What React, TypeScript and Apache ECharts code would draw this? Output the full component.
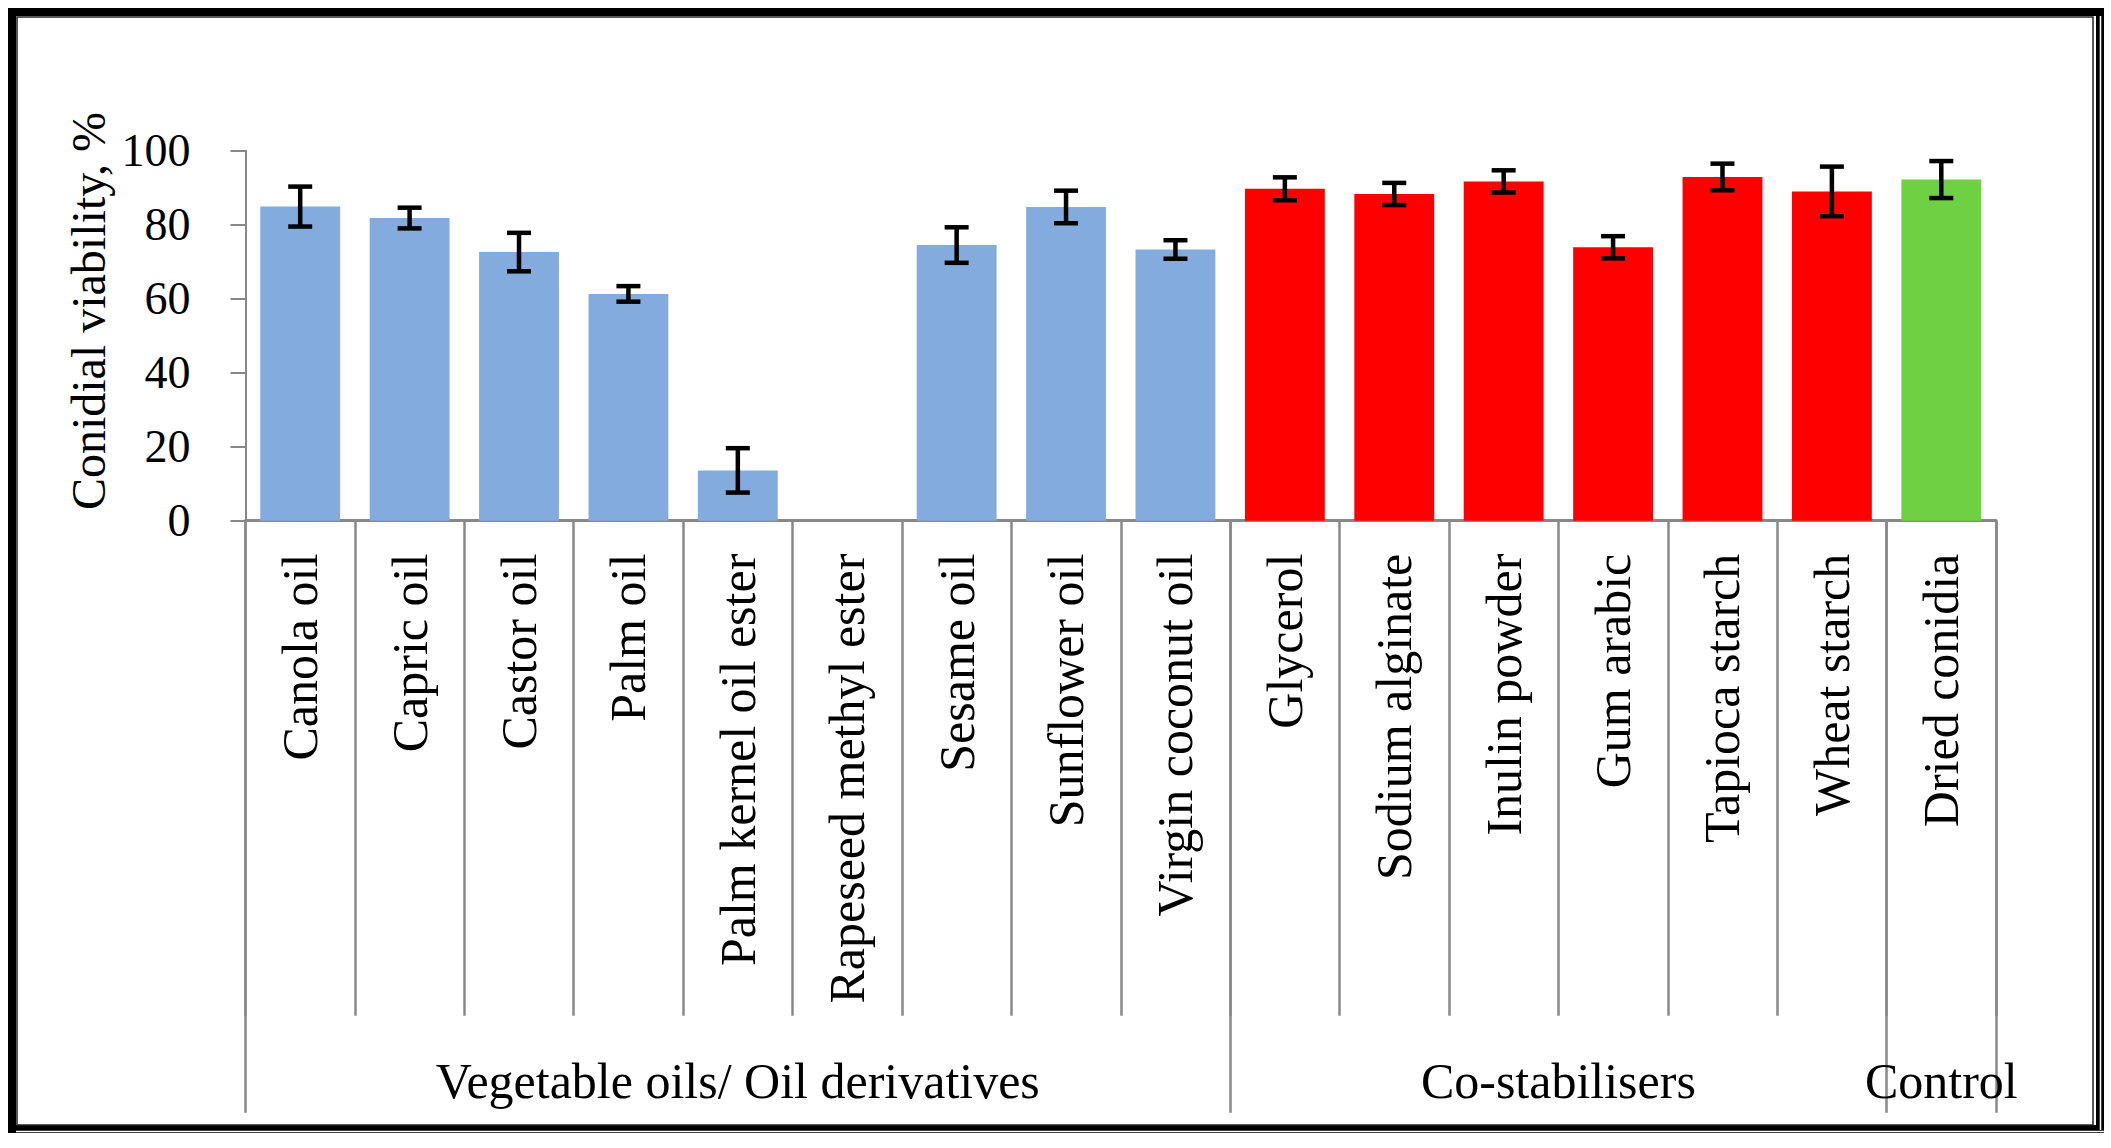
import React, { useEffect, useRef } from "react";
import * as echarts from "echarts";

const categories = [
  "Canola oil",
  "Capric oil",
  "Castor oil",
  "Palm oil",
  "Palm kernel oil ester",
  "Rapeseed methyl ester",
  "Sesame oil",
  "Sunflower oil",
  "Virgin coconut oil",
  "Glycerol",
  "Sodium alginate",
  "Inulin powder",
  "Gum arabic",
  "Tapioca starch",
  "Wheat starch",
  "Dried conidia",
];
const viability = [84.9, 81.8, 72.6, 61.3, 13.6, 0, 74.5, 84.8, 73.3, 89.7, 88.3, 91.7, 73.9, 92.9, 89.0, 92.2];
const errors = [5.4, 2.8, 5.2, 2.1, 6.0, 0, 4.8, 4.4, 2.5, 3.1, 3.0, 3.0, 3.0, 3.6, 6.7, 5.0];
const groupOf = [0, 0, 0, 0, 0, 0, 0, 0, 0, 1, 1, 1, 1, 1, 1, 2];
const groupNames = ["Vegetable oils/ Oil derivatives", "Co-stabilisers", "Control"];
const groupColors = ["#83ABDD", "#FF0000", "#6FD043"];
const yMin = 0;
const yMax = 100;
const yStep = 20;
const yTitle = "Conidial viability, %";

const FONT = "'Liberation Serif', 'Times New Roman', serif";
const AXIS_GREY = "#888888";

export default function App() {
  const ref = useRef<HTMLDivElement>(null);

  useEffect(() => {
    if (!ref.current) return;
    const chart = echarts.init(ref.current, null, { renderer: "svg" });

    const groupStarts: number[] = [];
    groupOf.forEach((g, i) => {
      if (i === 0 || groupOf[i - 1] !== g) groupStarts.push(i);
    });

    const option: any = {
      animation: false,
      backgroundColor: "#ffffff",
      grid: {
        left: 245.5,
        right: 115,
        top: 150.7,
        bottom: 627.3,
        containLabel: false,
        outerBoundsMode: "none",
      },
      xAxis: [
        {
          type: "category",
          data: categories,
          position: "bottom",
          axisLine: { show: true, lineStyle: { color: AXIS_GREY, width: 3 } },
          axisTick: {
            show: true,
            interval: 0,
            length: 495,
            lineStyle: { color: AXIS_GREY, width: 2.5 },
          },
          axisLabel: {
            show: true,
            interval: 0,
            rotate: 90,
            margin: 33,
            fontSize: 50,
            fontFamily: FONT,
            color: "#000",
          },
          splitLine: { show: false },
        },
        {
          type: "category",
          data: categories,
          position: "bottom",
          axisLine: { show: false },
          axisTick: {
            show: true,
            interval: (i: number) => groupStarts.indexOf(i) >= 0,
            length: 592,
            lineStyle: { color: AXIS_GREY, width: 2.5 },
          },
          axisLabel: { show: false },
          splitLine: { show: false },
        },
      ],
      yAxis: {
        type: "value",
        min: yMin,
        max: yMax,
        interval: yStep,
        axisLine: { show: true, lineStyle: { color: AXIS_GREY, width: 2 } },
        axisTick: { show: true, length: 15, lineStyle: { color: AXIS_GREY, width: 2 } },
        axisLabel: { fontSize: 46, fontFamily: FONT, color: "#000", margin: 55 },
        splitLine: { show: false },
      },
      series: [
        {
          type: "bar",
          xAxisIndex: 0,
          barWidth: "73%",
          data: viability.map((v, i) => ({
            value: v,
            itemStyle: { color: groupColors[groupOf[i]] },
          })),
        },
        {
          type: "custom",
          xAxisIndex: 0,
          encode: { x: 0, y: 1 },
          data: viability.map((v, i) => [i, v, errors[i]]),
          z: 10,
          renderItem: (params: any, api: any) => {
            const i = api.value(0);
            const v = api.value(1);
            const e = api.value(2);
            if (!e) return { type: "group", children: [] };
            const top = api.coord([i, v + e]);
            const bot = api.coord([i, v - e]);
            const w = 12;
            const style = { stroke: "#000", lineWidth: 4.5 };
            return {
              type: "group",
              children: [
                { type: "line", shape: { x1: top[0], y1: top[1], x2: bot[0], y2: bot[1] }, style },
                { type: "line", shape: { x1: top[0] - w, y1: top[1], x2: top[0] + w, y2: top[1] }, style },
                { type: "line", shape: { x1: bot[0] - w, y1: bot[1], x2: bot[0] + w, y2: bot[1] }, style },
              ],
            };
          },
        },
      ],
      graphic: [],
    };

    chart.setOption(option);

    const px = (i: number) => chart.convertToPixel({ xAxisIndex: 0 }, i) as number;
    const band = px(1) - px(0);
    const groupLabels = groupNames.map((name, g) => {
      const idx = groupOf.map((gg, i) => (gg === g ? i : -1)).filter((i) => i >= 0);
      const left = px(idx[0]) - band / 2;
      const right = px(idx[idx.length - 1]) + band / 2;
      return {
        type: "text",
        x: (left + right) / 2,
        y: 1081,
        style: {
          text: name,
          fontSize: 50,
          fontFamily: FONT,
          fill: "#000",
          align: "center",
          verticalAlign: "middle",
        },
        z: 100,
      };
    });

    chart.setOption({
      graphic: [
        {
          type: "rect",
          shape: { x: 12, y: 12, width: 2088, height: 1117 },
          style: { fill: "none", stroke: "#000", lineWidth: 8 },
          z: 100,
        },
        {
          type: "line",
          shape: { x1: 2100.5, y1: 16, x2: 2100.5, y2: 1130 },
          style: { stroke: "#fff", lineWidth: 1.5 },
          z: 101,
        },
        {
          type: "line",
          shape: { x1: 16, y1: 1131.5, x2: 2104, y2: 1131.5 },
          style: { stroke: "#fff", lineWidth: 1.5 },
          z: 101,
        },
        {
          type: "rect",
          shape: { x: 17, y: 17, width: 2076, height: 1108 },
          style: { fill: "none", stroke: "#222", lineWidth: 1.5 },
          z: 100,
        },
        {
          type: "text",
          x: 88,
          y: 311,
          rotation: Math.PI / 2,
          style: {
            text: yTitle,
            fontSize: 48,
            fontFamily: FONT,
            fill: "#000",
            align: "center",
            verticalAlign: "middle",
          },
          z: 100,
        },
        ...groupLabels,
      ],
    });

    return () => chart.dispose();
  }, []);

  return (
    <div
      ref={ref}
      style={{ position: "fixed", left: 0, top: 0, width: 2111, height: 1148, background: "#fff" }}
    />
  );
}
